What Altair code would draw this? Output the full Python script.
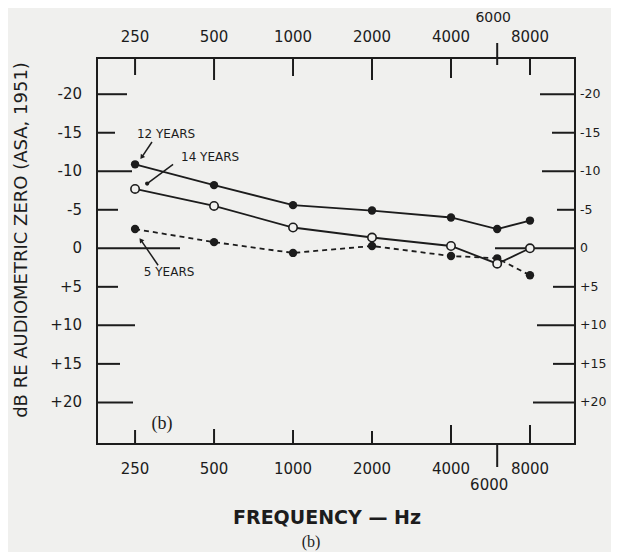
import altair as alt
import pandas as pd

# ---------------- data ----------------
FREQS = [250, 500, 1000, 2000, 4000, 6000, 8000]
DB_12 = [-10.9, -8.2, -5.6, -4.9, -4.0, -2.5, -3.6]
DB_14 = [-7.7, -5.5, -2.7, -1.4, -0.3, 2.0, 0.0]
DB_5 = [-2.5, -0.8, 0.6, -0.3, 1.0, 1.3, 3.5]

Y_TICKS = [-20, -15, -10, -5, 0, 5, 10, 15, 20]
X_TICK_LABELS = ["250", "500", "1000", "2000", "4000", "6000", "8000"]

X_TITLE = "FREQUENCY — Hz"
Y_TITLE = "dB RE AUDIOMETRIC ZERO (ASA, 1951)"

ANNOT_TEXT = ["12 YEARS", "14 YEARS", "5 YEARS"]
ANNOT_FREQ = [328, 483, 337]
ANNOT_DB = [-14.9, -11.8, 3.1]

# pointer lines (from, to) in data units
PTR_F1 = [290, 349, 306]
PTR_D1 = [-13.8, -10.9, 2.2]
PTR_F2 = [266, 278, 264]
PTR_D2 = [-11.9, -8.4, -1.0]

# ---------------- style ----------------
W, H = 478, 386
INK = "#1c1c1c"
BG = "#f0f0ee"
FONT = "DejaVu Sans"
LEFT_LEN = {-20: 30, -15: 18, -10: 35, -5: 21, 0: 83, 5: 21, 10: 38, 15: 23, 20: 36}
RIGHT_LEN = {-20: 35, -15: 23, -10: 33, -5: 18, 0: 80, 5: 22, 10: 38, 15: 22, 20: 42}
TOP_SPAN = {250: (0, 17), 500: (0, 22), 1000: (0, 18), 2000: (0, 22), 4000: (0, 20), 6000: (-15, 7), 8000: (0, 17)}
BOT_SPAN = {250: (-14, 0), 500: (-15, 0), 1000: (-14, 0), 2000: (-13, 0), 4000: (-19, 0), 6000: (0, 23), 8000: (-19, 0)}

xscale = alt.Scale(type="log", base=2, domain=[179, 11877], nice=False)
yscale = alt.Scale(domain=[-24.7, 25.4], reverse=True, nice=False, zero=False)

rows = []
for name, vals in [("12 years", DB_12), ("14 years", DB_14), ("5 years", DB_5)]:
    for f, v in zip(FREQS, vals):
        rows.append({"freq": f, "db": v, "series": name})
df = pd.DataFrame(rows)

base = alt.Chart(df)
X = alt.X("freq:Q", scale=xscale, axis=None)
Y = alt.Y("db:Q", scale=yscale, axis=None)

layers = []

# y ticks (inner, varying lengths) left and right
for v in Y_TICKS:
    d = pd.DataFrame({"v": [v]})
    yv = alt.Y("v:Q", scale=yscale, axis=None)
    layers.append(alt.Chart(d).mark_rule(color=INK, strokeWidth=2).encode(
        y=yv, x=alt.value(0), x2=alt.value(LEFT_LEN[v])))
    layers.append(alt.Chart(d).mark_rule(color=INK, strokeWidth=2).encode(
        y=yv, x=alt.value(W - RIGHT_LEN[v]), x2=alt.value(W)))

# x ticks top and bottom
for f in FREQS:
    d = pd.DataFrame({"f": [f]})
    xv = alt.X("f:Q", scale=xscale, axis=None)
    t0, t1 = TOP_SPAN[f]
    b0, b1 = BOT_SPAN[f]
    layers.append(alt.Chart(d).mark_rule(color=INK, strokeWidth=2).encode(
        x=xv, y=alt.value(t0), y2=alt.value(t1)))
    layers.append(alt.Chart(d).mark_rule(color=INK, strokeWidth=2).encode(
        x=xv, y=alt.value(H + b0), y2=alt.value(H + b1)))

# tick labels
ylab = pd.DataFrame({"v": Y_TICKS, "t": [("+" + str(v)) if v > 0 else str(v) for v in Y_TICKS]})
layers.append(alt.Chart(ylab).mark_text(font=FONT, fontSize=15, color=INK, align="right",
                                         baseline="middle").encode(
    y=alt.Y("v:Q", scale=yscale, axis=None), x=alt.value(-15), text="t:N"))
layers.append(alt.Chart(ylab).mark_text(font=FONT, fontSize=12.5, color=INK, align="left",
                                         baseline="middle").encode(
    y=alt.Y("v:Q", scale=yscale, axis=None), x=alt.value(W + 5), text="t:N"))

xlab = pd.DataFrame({"f": FREQS, "t": X_TICK_LABELS})
xl = alt.X("f:Q", scale=xscale, axis=None)
lab = alt.Chart(xlab)
layers.append(lab.transform_filter("datum.f != 6000").mark_text(
    font=FONT, fontSize=15, color=INK, baseline="middle").encode(x=xl, y=alt.value(-21), text="t:N"))
layers.append(lab.transform_filter("datum.f == 6000").mark_text(
    font=FONT, fontSize=14, color=INK, baseline="middle", dx=-4).encode(x=xl, y=alt.value(-40), text="t:N"))
layers.append(lab.transform_filter("datum.f != 6000").mark_text(
    font=FONT, fontSize=15, color=INK, baseline="middle").encode(x=xl, y=alt.value(H + 25), text="t:N"))
layers.append(lab.transform_filter("datum.f == 6000").mark_text(
    font=FONT, fontSize=15, color=INK, baseline="middle", dx=-8).encode(x=xl, y=alt.value(H + 41), text="t:N"))

# axis titles
layers.append(alt.Chart(pd.DataFrame({"t": [X_TITLE]})).mark_text(
    font=FONT, fontSize=19, fontWeight="bold", color=INK, baseline="middle").encode(
    x=alt.value(230), y=alt.value(H + 74), text="t:N"))
layers.append(alt.Chart(pd.DataFrame({"t": [Y_TITLE]})).mark_text(
    font=FONT, fontSize=18, color=INK, baseline="middle", angle=270).encode(
    x=alt.value(-75), y=alt.value(182), text="t:N"))

# data lines
layers.append(base.transform_filter("datum.series == '12 years'").mark_line(
    color=INK, strokeWidth=1.8).encode(x=X, y=Y))
layers.append(base.transform_filter("datum.series == '14 years'").mark_line(
    color=INK, strokeWidth=1.8).encode(x=X, y=Y))
layers.append(base.transform_filter("datum.series == '5 years'").mark_line(
    color=INK, strokeWidth=1.8, strokeDash=[5, 4]).encode(x=X, y=Y))

# points
layers.append(base.transform_filter("datum.series != '14 years'").mark_point(
    filled=True, color=INK, size=70, opacity=1).encode(x=X, y=Y))
layers.append(base.transform_filter("datum.series == '14 years'").mark_point(
    filled=False, fill=BG, stroke=INK, strokeWidth=1.6, size=70, opacity=1).encode(x=X, y=Y))

# annotations
ann = pd.DataFrame({"t": ANNOT_TEXT, "f": ANNOT_FREQ, "d": ANNOT_DB})
layers.append(alt.Chart(ann).mark_text(font=FONT, fontSize=12, color=INK, baseline="middle").encode(
    x=alt.X("f:Q", scale=xscale, axis=None), y=alt.Y("d:Q", scale=yscale, axis=None), text="t:N"))

ptr = pd.DataFrame({"f1": PTR_F1, "d1": PTR_D1, "f2": PTR_F2, "d2": PTR_D2, "k": [0, 1, 2]})
layers.append(alt.Chart(ptr).mark_rule(color=INK, strokeWidth=1.5).encode(
    x=alt.X("f1:Q", scale=xscale, axis=None), y=alt.Y("d1:Q", scale=yscale, axis=None),
    x2="f2:Q", y2="d2:Q"))
layers.append(alt.Chart(ptr).transform_filter("datum.k == 0").mark_point(
    shape="triangle", filled=True, color=INK, size=28, angle=215, opacity=1).encode(
    x=alt.X("f2:Q", scale=xscale, axis=None), y=alt.Y("d2:Q", scale=yscale, axis=None)))
layers.append(alt.Chart(ptr).transform_filter("datum.k == 2").mark_point(
    shape="triangle", filled=True, color=INK, size=28, angle=324, opacity=1).encode(
    x=alt.X("f2:Q", scale=xscale, axis=None), y=alt.Y("d2:Q", scale=yscale, axis=None)))
layers.append(alt.Chart(ptr).transform_filter("datum.k == 1").mark_point(
    shape="circle", filled=True, color=INK, size=18, opacity=1).encode(
    x=alt.X("f2:Q", scale=xscale, axis=None), y=alt.Y("d2:Q", scale=yscale, axis=None)))

# "(b)" labels
layers.append(alt.Chart(pd.DataFrame({"t": ["(b)"]})).mark_text(
    font="Liberation Serif", fontSize=18, color=INK, baseline="middle").encode(
    x=alt.value(65), y=alt.value(H - 20), text="t:N"))
layers.append(alt.Chart(pd.DataFrame({"t": ["(b)"]})).mark_text(
    font="Liberation Serif", fontSize=16, color=INK, baseline="middle").encode(
    x=alt.value(214), y=alt.value(H + 98), text="t:N"))

chart = alt.layer(*layers).properties(
    width=W, height=H,
    autosize=alt.AutoSizeParams(type="none"),
    padding={"left": 89, "top": 50, "right": 36, "bottom": 108},
    background=BG,
).configure_view(stroke=INK, strokeWidth=2)

chart.save("out.html", embed_options={"renderer": "svg", "actions": False})
